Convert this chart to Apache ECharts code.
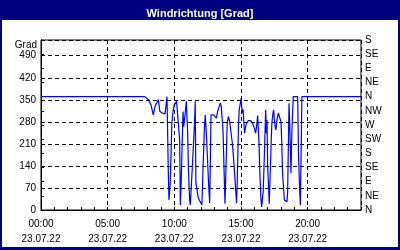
<!DOCTYPE html>
<html>
<head>
<meta charset="utf-8">
<script src="https://cdn.jsdelivr.net/npm/echarts@6/dist/echarts.min.js"></script>
<style>html,body{margin:0;padding:0;background:#fff}#c{width:400px;height:250px}</style>
</head>
<body>
<div id="c"></div>
<script>
const times = ['00:00','07:47','08:03','08:15','08:25','08:33','08:40','08:48','08:55','09:06','09:18','09:22','09:27','09:33','09:36','09:39','09:42','09:49','09:54','10:00','10:10','10:18','10:24','10:27','10:31','10:39','10:42','10:49','10:54','11:00','11:04','11:09','11:12','11:18','11:22','11:27','11:31','11:34','11:37','11:42','11:48','11:57','12:04','12:09','12:15','12:19','12:24','12:30','12:34','12:39','12:42','12:45','12:57','13:04','13:09','13:15','13:22','13:27','13:31','13:39','13:45','13:48','13:55','13:58','14:03','14:09','14:13','14:18','14:21','14:25','14:31','14:36','14:40','14:43','14:46','14:49','14:52','14:57','15:00','15:03','15:06','15:09','15:13','15:16','15:21','15:25','15:33','15:43','15:51','15:58','16:06','16:10','16:15','16:21','16:25','16:30','16:33','16:37','16:40','16:45','16:48','16:51','16:54','16:57','17:00','17:04','17:07','17:10','17:13','17:16','17:19','17:24','17:27','17:30','17:34','17:37','17:42','17:48','17:52','17:57','18:00','18:03','18:07','18:12','18:15','18:19','18:27','18:30','18:33','18:36','18:39','18:42','18:45','18:49','18:55','19:15','19:19','19:24','19:27','19:30','19:34','24:00'];
const windDir = [360,360,350,334,302,329,339,350,313,308,305,329,360,117,32,60,95,277,313,334,345,345,222,16,95,313,265,308,345,244,118,32,16,13,150,222,277,345,86,64,38,32,16,127,254,302,244,150,86,22,150,302,302,296,292,313,329,339,330,254,95,20,201,277,297,281,286,284,212,180,118,64,22,90,180,277,318,339,355,330,308,320,277,244,265,277,284,284,277,265,244,265,300,212,118,32,10,10,60,170,244,318,244,286,138,74,20,20,150,222,277,308,318,288,265,254,286,308,305,302,280,222,118,64,32,28,26,60,200,339,280,200,117,250,360,360,170,64,15,150,360,360];
const xTickHours = [0,5,10,15,20];
const dateLabel = '23.07.22';
const leftTicks = [0,70,140,210,280,350,420,490];
const dirLabels = ['N','NE','E','SE','S','SW','W','NW','N','NE','E','SE','S'];

const toHours = t => { const p = t.split(':'); return +p[0] + (+p[1]) / 60; };
const seriesData = times.map((t, i) => [toHours(t), windDir[i]]);
const pad = n => (n < 10 ? '0' : '') + n;
const font = 'Liberation Sans';

const chart = echarts.init(document.getElementById('c'), null, {renderer: 'canvas'});
chart.setOption({
  animation: false,
  backgroundColor: '#000080',
  graphic: [{type: 'rect', z: -10, silent: true, shape: {x: 2, y: 20, width: 396, height: 227}, style: {fill: '#ffffff'}}],
  title: {
    text: 'Windrichtung [Grad]', left: 'center', top: 3,
    textStyle: {color: '#fff', fontSize: 11, fontWeight: 'bold', fontFamily: font}
  },
  grid: {left: 41, right: 39, top: 40, bottom: 40, show: true, borderColor: '#000', borderWidth: 1},
  xAxis: [{
    type: 'value', min: 0, max: 24, interval: 5, position: 'bottom',
    axisLine: {lineStyle: {color: '#000', width: 1}},
    axisTick: {show: false},
    axisLabel: {
      color: '#000', fontSize: 10, fontFamily: font, lineHeight: 15, margin: 7,
      formatter: v => xTickHours.indexOf(v) >= 0 ? pad(v) + ':00\n' + dateLabel : ''
    },
    splitLine: {show: true, lineStyle: {color: '#000', type: [4, 3], width: 1}}
  }, {
    type: 'value', min: 0, max: 24, interval: 1, position: 'bottom',
    axisLine: {show: false},
    axisTick: {show: true, inside: true, length: 3, lineStyle: {color: '#000'}},
    axisLabel: {show: false},
    splitLine: {show: false}
  }],
  yAxis: [{
    type: 'value', min: 0, max: 540, interval: 70, position: 'left',
    name: 'Grad', nameLocation: 'end', nameGap: -10,
    nameTextStyle: {color: '#000', fontSize: 10, fontFamily: font, align: 'right', verticalAlign: 'bottom', padding: [0, 4, 0, 0]},
    axisLine: {show: true, lineStyle: {color: '#000'}},
    axisTick: {show: false},
    axisLabel: {color: '#000', fontSize: 10, fontFamily: font, margin: 5,
      formatter: v => leftTicks.indexOf(v) >= 0 ? String(v) : ''},
    splitLine: {show: true, lineStyle: {color: '#000', type: [4, 3], width: 1}}
  }, {
    type: 'value', min: 0, max: 540, interval: 45, position: 'right',
    axisLine: {show: true, lineStyle: {color: '#000'}},
    axisTick: {show: true, length: 3, lineStyle: {color: '#000'}},
    axisLabel: {color: '#000', fontSize: 10, fontFamily: font, margin: 4,
      formatter: v => dirLabels[Math.round(v / 45)] || ''},
    splitLine: {show: false}
  }],
  series: [{
    type: 'line', xAxisIndex: 0, yAxisIndex: 0,
    data: seriesData, showSymbol: false, symbol: 'none',
    lineStyle: {color: '#0000ff', width: 1.2}
  }]
});
</script>
</body>
</html>
